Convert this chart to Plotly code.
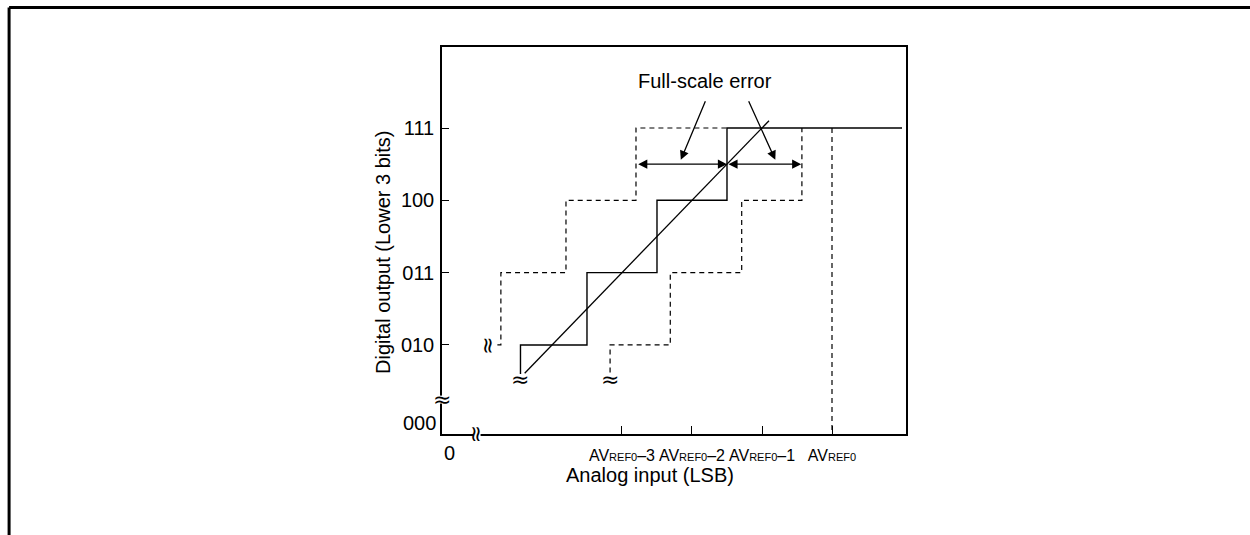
import plotly.graph_objects as go

# x in LSB relative to AVREF0 (AVREF0 = 0), y in output code steps (010 -> 2 ... 111 -> 5)
x_tick_vals = [-3, -2, -1, 0]
x_tick_text = [
    'AV<span style="font-size:11px">REF0</span>–3',
    'AV<span style="font-size:11px">REF0</span>–2',
    'AV<span style="font-size:11px">REF0</span>–1',
    'AV<span style="font-size:11px">REF0</span>',
]
y_tick_vals = [2, 3, 4, 5]
y_tick_text = ["010", "011", "100", "111"]

# actual conversion characteristic (solid staircase)
actual_x = [-4.45, -4.45, -3.5, -3.5, -2.5, -2.5, -1.5, -1.5, 1.0]
actual_y = [1.6, 2, 2, 3, 3, 4, 4, 5, 5]

# ideal straight line
ideal_x = [-4.39, -0.9]
ideal_y = [1.61, 5.1]

# full-scale error limits (dashed staircases)
upper_x = [-4.78, -4.73, -4.73, -3.8, -3.8, -2.8, -2.8, -1.5]
upper_y = [2, 2, 3, 3, 4, 4, 5, 5]
lower_x = [-3.17, -3.17, -2.31, -2.31, -1.29, -1.29, -0.43, -0.43]
lower_y = [1.62, 2, 2, 3, 3, 4, 4, 5]
ref_x = [0, 0]
ref_y = [5, 0.77]

# full-scale error span arrows at half step between 100 and 111
span_y = 4.5
span_left = [-2.79, -1.5]
span_right = [-1.5, -0.44]
pointer_tails = [(-1.8, 5.39), (-1.2, 5.39)]
pointer_heads = [(-2.16, 4.56), (-0.81, 4.56)]
label_pos = (-1.81, 5.65)

X_RANGE = [-5.571, 1.057]
Y_RANGE = [0.769, 6.12]

FONT = "Liberation Sans, Arial, sans-serif"
NARROW = "Liberation Sans Narrow, Arial Narrow, Liberation Sans, Arial, sans-serif"
TEXT_SIZE = 20

fig = go.Figure()

dashed = {"color": "black", "width": 1.2, "dash": "5px,4px"}
fig.add_trace(go.Scatter(x=upper_x, y=upper_y, mode="lines", line=dashed))
fig.add_trace(go.Scatter(x=lower_x, y=lower_y, mode="lines", line=dashed))
fig.add_trace(go.Scatter(x=ref_x, y=ref_y, mode="lines", line=dashed))
fig.add_trace(go.Scatter(x=actual_x, y=actual_y, mode="lines",
                         line={"color": "black", "width": 1.4}))
fig.add_trace(go.Scatter(x=ideal_x, y=ideal_y, mode="lines",
                         line={"color": "black", "width": 1.3}))

annotations = []

# double-headed span arrows
for seg in (span_left, span_right):
    annotations.append(dict(
        x=seg[1], y=span_y, ax=seg[0], ay=span_y, xref="x", yref="y", axref="x", ayref="y",
        text="", showarrow=True, arrowhead=2, arrowside="end+start", arrowsize=1.4,
        arrowwidth=1.3, arrowcolor="black", standoff=0, startstandoff=0,
    ))

# pointers from label
for (tx, ty), (hx, hy) in zip(pointer_tails, pointer_heads):
    annotations.append(dict(
        x=hx, y=hy, ax=tx, ay=ty, xref="x", yref="y", axref="x", ayref="y",
        text="", showarrow=True, arrowhead=2, arrowsize=1.4, arrowwidth=1.3,
        arrowcolor="black", standoff=0,
    ))

annotations.append(dict(x=label_pos[0], y=label_pos[1], xref="x", yref="y", text="Full-scale error",
                        showarrow=False, font={"family": FONT, "size": TEXT_SIZE, "color": "black"}))

# break marks
wave_font = {"family": "DejaVu Sans, sans-serif", "size": 22, "color": "black"}
annotations += [
    dict(x=-4.45, y=1.52, xref="x", yref="y", text="≈", showarrow=False, font=wave_font),
    dict(x=-3.17, y=1.52, xref="x", yref="y", text="≈", showarrow=False, font=wave_font),
    dict(x=-4.92, y=2.0, xref="x", yref="y", text="≈", textangle=90, showarrow=False, font=wave_font),
    dict(x=0, y=1.245, xref="paper", yref="y", xanchor="center", text="≈", showarrow=False,
         font=wave_font),
    dict(x=-5.07, y=0, xref="x", yref="paper", yanchor="middle", text="≈", textangle=90,
         showarrow=False, font=wave_font),
]

# extra axis labels and titles
annotations += [
    dict(x=0, y=0.921, xref="paper", yref="y", xanchor="right", xshift=-4, text="000",
         showarrow=False, font={"family": FONT, "size": TEXT_SIZE, "color": "black"}),
    dict(x=0, y=0, xref="paper", yref="paper", xanchor="left", yanchor="top", yshift=-6, text="0",
         showarrow=False, font={"family": FONT, "size": TEXT_SIZE, "color": "black"}),
    dict(x=0.448, y=0, xref="paper", yref="paper", xanchor="center", yanchor="middle", yshift=-41,
         text="Analog input (LSB)", showarrow=False,
         font={"family": FONT, "size": TEXT_SIZE, "color": "black"}),
    dict(x=-0.127, y=0.468, xref="paper", yref="paper", xanchor="center", yanchor="middle",
         textangle=-90, text="Digital output (Lower 3 bits)", showarrow=False,
         font={"family": FONT, "size": TEXT_SIZE, "color": "black"}),
]

shapes = [
    # gaps in the axis lines for the break marks
    dict(type="line", xref="paper", yref="y", x0=0, x1=0, y0=1.19, y1=1.30, layer="above",
         line={"color": "white", "width": 4}),
    dict(type="line", xref="x", yref="paper", x0=-5.12, x1=-5.02, y0=0, y1=0, layer="above",
         line={"color": "white", "width": 4}),
    # outer frame: only the top and left edges show on the page
    dict(type="line", xref="paper", yref="paper", x0=-0.933, x1=1.9, y0=1.102, y1=1.102,
         line={"color": "black", "width": 3}, layer="below"),
    dict(type="line", xref="paper", yref="paper", x0=-0.933, x1=-0.933, y0=-0.5, y1=1.102,
         line={"color": "black", "width": 3}, layer="below"),
]

fig.update_layout(
    width=1250,
    height=535,
    margin={"l": 442, "r": 344, "t": 47, "b": 101},
    paper_bgcolor="white",
    plot_bgcolor="white",
    showlegend=False,
    annotations=annotations,
    shapes=shapes,
    xaxis={
        "range": X_RANGE, "showgrid": False, "zeroline": False,
        "showline": True, "mirror": True, "linecolor": "black", "linewidth": 1.5,
        "tickvals": x_tick_vals, "ticktext": x_tick_text, "tickangle": 0,
        "ticks": "inside", "ticklen": 8, "tickwidth": 1.2, "tickcolor": "black",
        "ticklabelstandoff": 6,
        "tickfont": {"family": NARROW, "size": 16, "color": "black"},
    },
    yaxis={
        "range": Y_RANGE, "showgrid": False, "zeroline": False,
        "showline": True, "mirror": True, "linecolor": "black", "linewidth": 1.5,
        "tickvals": y_tick_vals, "ticktext": y_tick_text,
        "ticks": "inside", "ticklen": 7, "tickwidth": 1.2, "tickcolor": "black",
        "ticklabelstandoff": 2,
        "tickfont": {"family": FONT, "size": TEXT_SIZE, "color": "black"},
    },
)

# drop the default page margin so the figure sits at the window origin
fig.write_html("out.html", config={"displayModeBar": False},
               post_script="document.body.style.margin = '0';")
